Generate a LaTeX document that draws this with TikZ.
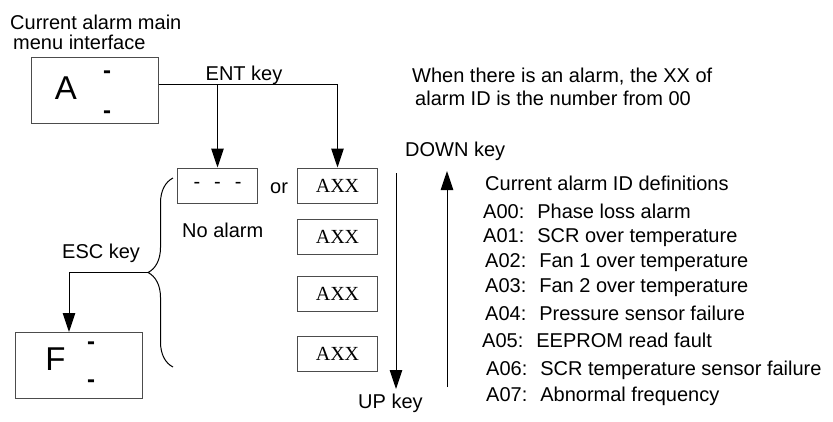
\documentclass[tikz,border=0pt]{standalone}
\usepackage{fontspec}
\setmainfont{Liberation Sans}
\newfontfamily\axxfont{Liberation Serif}
\usetikzlibrary{arrows.meta,decorations.pathreplacing,calc}

\begin{document}
\begin{tikzpicture}[x=1pt,y=-1pt,
  disp/.style={rectangle, draw=black!70, line width=1pt, inner sep=0pt},
  bigbox/.style={disp, minimum width=127pt, minimum height=66pt},
  idbox/.style={disp, minimum width=80pt, minimum height=35pt, font=\fontsize{20}{20}\axxfont},
  dashbox/.style={disp, minimum width=80pt, minimum height=35pt, font=\fontsize{20}{20}\selectfont},
  arr/.style={-{Triangle[length=19pt,width=12.5pt]}, line width=1pt},
  txt/.style={font=\fontsize{20}{20}\selectfont, inner sep=0pt},
  seg/.style={font=\fontsize{33}{33}\selectfont, inner sep=0pt},
  bar/.style={font=\fontsize{24}{24}\bfseries, inner sep=0pt}
]
  \useasboundingbox (0,0) rectangle (833,421);

  % main menu display
  \node[txt, anchor=base west] (title1) at (10,29) {Current alarm main};
  \node[txt, anchor=base west] (title2) at (13,49) {menu interface};
  \node[bigbox] (amenu) at (94.5,90) {};
  \node[seg] (aletter) at (66,88.5) {A};
  \node[bar] (abar1) at (107,75) {-};
  \node[bar] (abar2) at (107,115) {-};

  % alarm list
  \node[dashbox] (noalarm) at (217.5,185.5) {-\hspace{14pt}-\hspace{14pt}-};
  \node[txt, anchor=base west] (orlbl) at (270,193) {or};
  \node[txt, anchor=base west] (nolbl) at (182,237) {No alarm};
  \node[idbox] (axx1) at (337.5,185.5) {AXX};
  \node[idbox] (axx2) at (337.5,236.5) {AXX};
  \node[idbox] (axx3) at (337.5,294) {AXX};
  \node[idbox] (axx4) at (337.5,353.5) {AXX};

  \coordinate (entsplit) at (noalarm.north |- 0,84);
  \node[txt, anchor=base] (entlbl) at (244,80) {ENT key};
  \draw[arr] (amenu.east |- entsplit) -| (axx1.north);
  \draw[arr] (entsplit) -- (noalarm.north);

  % scrolling
  \coordinate (downtop) at (396,173);
  \coordinate (downend) at (396,389);
  \coordinate (upstart) at (447,387);
  \coordinate (upend) at (447,171);
  \draw[arr] (downtop) -- (downend);
  \draw[arr] (upstart) -- (upend);
  \node[txt, anchor=base west] (downlbl) at (405,156) {DOWN key};
  \node[txt, anchor=base west] (uplbl) at (358,408) {UP key};

  % back to fault display
  \coordinate (bracelow) at (173,367);
  \coordinate (bracehigh) at (173,178);
  \coordinate (esctip) at (148,272.5);
  \draw[line width=1pt, decorate, decoration={brace, amplitude=25pt}] (bracelow) -- (bracehigh);
  \node[bigbox] (fmenu) at (78.5,365.5) {};
  \node[seg] (fletter) at (55.5,359.5) {F};
  \node[bar] (fbar1) at (91,346) {-};
  \node[bar] (fbar2) at (91,384) {-};
  \node[txt, anchor=base west] (esclbl) at (62,258) {ESC key};
  \draw[arr] (esctip) -| ([xshift=-9.5pt]fmenu.north);

  % notes
  \node[txt, anchor=base west] (note1) at (412,82) {When there is an alarm, the XX of};
  \node[txt, anchor=base west] (note2) at (415,105) {alarm ID is the number from 00};
  \node[txt, anchor=base west] (idhead) at (485,190) {Current alarm ID definitions};
  \node[txt, anchor=base west] (id0) at (483,218) {A00:\hspace{13pt}Phase loss alarm};
  \node[txt, anchor=base west] (id1) at (483,242) {A01:\hspace{13pt}SCR over temperature};
  \node[txt, anchor=base west] (id2) at (485,267) {A02:\hspace{13pt}Fan 1 over temperature};
  \node[txt, anchor=base west] (id3) at (485,292) {A03:\hspace{13pt}Fan 2 over temperature};
  \node[txt, anchor=base west] (id4) at (485,320) {A04:\hspace{13pt}Pressure sensor failure};
  \node[txt, anchor=base west] (id5) at (482,347) {A05:\hspace{13pt}EEPROM read fault};
  \node[txt, anchor=base west] (id6) at (486,375) {A06:\hspace{13pt}SCR temperature sensor failure};
  \node[txt, anchor=base west] (id7) at (486,401) {A07:\hspace{13pt}Abnormal frequency};
\end{tikzpicture}
\end{document}
